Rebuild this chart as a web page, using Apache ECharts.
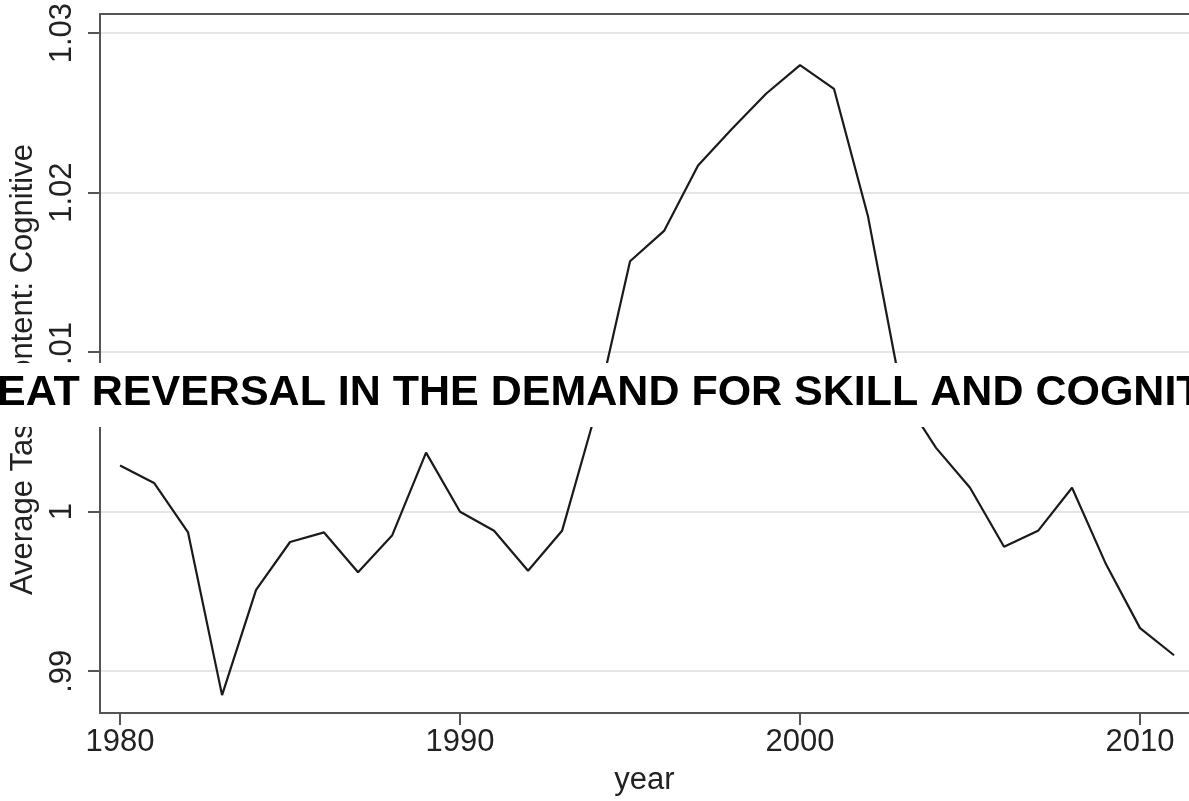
<!DOCTYPE html>
<html>
<head>
<meta charset="utf-8">
<script src="https://cdn.jsdelivr.net/npm/echarts@6/dist/echarts.min.js"></script>
<style>
  html, body { margin: 0; padding: 0; background: #fff; }
  #main { width: 1189px; height: 801px; }
</style>
</head>
<body>
<div id="main"></div>
<script>
// values
const years = [1980, 1981, 1982, 1983, 1984, 1985, 1986, 1987, 1988, 1989,
  1990, 1991, 1992, 1993, 1994, 1995, 1996, 1997, 1998, 1999,
  2000, 2001, 2002, 2003, 2004, 2005, 2006, 2007, 2008, 2009, 2010, 2011]
const cognitive = [1.0029, 1.0018, 0.9987, 0.9885, 0.9951, 0.9981, 0.9987, 0.9962, 0.9985, 1.0037,
  1.0000, 0.9988, 0.9963, 0.9988, 1.0063, 1.0157, 1.0176, 1.0217, 1.0240, 1.0262,
  1.0280, 1.0265, 1.0185, 1.0073, 1.0040, 1.0015, 0.9978, 0.9988, 1.0015, 0.9967, 0.9927, 0.9910]
const xTicks = [1980, 1990, 2000, 2010]
const yTicks = [0.99, 1.00, 1.01, 1.02, 1.03]
const yTickLabels = { 0.99: '.99', 1: '1', 1.01: '1.01', 1.02: '1.02', 1.03: '1.03' }
const bannerText = 'EAT REVERSAL IN THE DEMAND FOR SKILL AND COGNIT'

const chart = echarts.init(document.getElementById('main'))
const font = 'Liberation Sans, Arial, sans-serif'
const axisGrey = '#555'
const xMin = 1979.41
const xMax = 2011.44

const option = {
  backgroundColor: '#fff',
  animation: false,
  grid: { left: 100, top: 12, bottom: 87, right: 0 },
  xAxis: [
    {
      type: 'value',
      min: xMin,
      max: xMax,
      name: 'year',
      nameLocation: 'middle',
      nameGap: 52,
      nameTextStyle: { fontFamily: font, fontSize: 31, color: '#222' },
      axisLine: { show: true, lineStyle: { color: axisGrey, width: 2 } },
      axisTick: { show: true, length: 12, customValues: xTicks, lineStyle: { color: axisGrey, width: 2 } },
      axisLabel: {
        customValues: xTicks, margin: 14,
        fontFamily: font, fontSize: 31, color: '#222',
        formatter: v => String(v)
      },
      splitLine: { show: false }
    },
    {
      // top border of the plot box
      type: 'value',
      position: 'top',
      min: xMin,
      max: xMax,
      axisLine: { show: true, lineStyle: { color: axisGrey, width: 2 } },
      axisTick: { show: false },
      axisLabel: { show: false },
      splitLine: { show: false }
    }
  ],
  yAxis: {
    type: 'value',
    min: 0.98738,
    max: 1.03119,
    name: 'Average Task Content: Cognitive',
    nameLocation: 'middle',
    nameGap: 57,
    nameTextStyle: { fontFamily: font, fontSize: 31, color: '#222', padding: [0, 12, 0, 0] },
    axisLine: { show: true, lineStyle: { color: axisGrey, width: 2 } },
    axisTick: { show: true, length: 12, customValues: yTicks, lineStyle: { color: axisGrey, width: 2 } },
    axisLabel: {
      customValues: yTicks, margin: 22, rotate: 90,
      fontFamily: font, fontSize: 31, color: '#222',
      formatter: v => yTickLabels[Math.round(v * 100) / 100]
    },
    splitLine: { show: true, lineStyle: { color: '#e5e5e5', width: 2 } }
  },
  series: [
    {
      type: 'line',
      data: years.map((y, i) => [y, cognitive[i]]),
      showSymbol: false,
      lineStyle: { color: '#1a1a1a', width: 2.2 },
      z: 3
    }
  ],
  graphic: [
    {
      type: 'rect',
      z: 100,
      shape: { x: 0, y: 363, width: 1189, height: 64 },
      style: { fill: '#fff' }
    },
    {
      type: 'text',
      z: 101,
      x: -3,
      y: 393,
      style: {
        text: bannerText,
        fontFamily: font,
        fontWeight: 'bold',
        fontSize: 43,
        fill: '#000',
        verticalAlign: 'middle',
        align: 'left'
      }
    }
  ]
}
chart.setOption(option)
window.addEventListener('resize', function() {
  chart.resize()
})
</script>
</body>
</html>
